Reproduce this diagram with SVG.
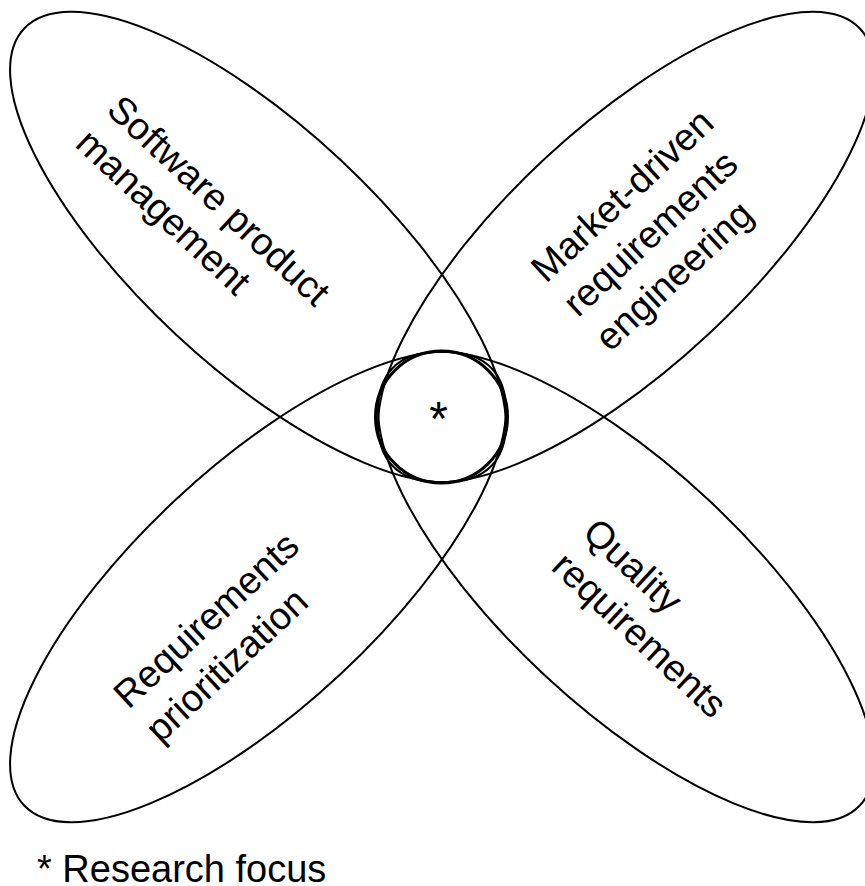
<svg xmlns="http://www.w3.org/2000/svg" width="865" height="886" viewBox="0 0 865 886">
<style>
  .shape { fill: none; stroke: #000; stroke-width: 2; }
  .focus { fill: none; stroke: #000; stroke-width: 3; }
  .lbl { font-family: "Liberation Sans", Arial, Helvetica, sans-serif; font-size: 38px; fill: #000; }
</style>
<rect x="0" y="0" width="865" height="886" fill="#fff"/>
<g id="connectors"></g>
<g id="software-product-management">
  <ellipse class="shape" cx="0" cy="0" rx="320" ry="120" transform="translate(258,247) rotate(43)"/>
  <text class="lbl" transform="translate(105,112) rotate(43)"><tspan x="0" y="0">Software product</tspan><tspan x="0" y="46">management</tspan></text>
</g>
<g id="market-driven-re">
  <ellipse class="shape" cx="0" cy="0" rx="320" ry="120" transform="translate(626,247) rotate(-43)"/>
  <text class="lbl" transform="translate(546,284) rotate(-43)"><tspan x="0" y="0">Market-driven</tspan><tspan x="0" y="47">requirements</tspan><tspan x="0" y="94">engineering</tspan></text>
</g>
<g id="requirements-prioritization">
  <ellipse class="shape" cx="0" cy="0" rx="320" ry="120" transform="translate(258,587) rotate(-43)"/>
  <text class="lbl" transform="translate(128.5,710) rotate(-43)"><tspan x="0" y="0">Requirements</tspan><tspan x="0" y="47">prioritization</tspan></text>
</g>
<g id="quality-requirements">
  <ellipse class="shape" cx="0" cy="0" rx="320" ry="120" transform="translate(626,587) rotate(43)"/>
  <text class="lbl" transform="translate(581,535) rotate(43)"><tspan x="0" y="0">Quality</tspan><tspan x="0" y="46">requirements</tspan></text>
</g>
<g id="research-focus">
  <circle class="focus" cx="441.5" cy="417" r="66"/>
  <text class="lbl" x="438.5" y="435" text-anchor="middle" style="font-size:48px">*</text>
</g>
<g id="legend">
  <text class="lbl" x="37" y="882">* Research focus</text>
</g>
</svg>
